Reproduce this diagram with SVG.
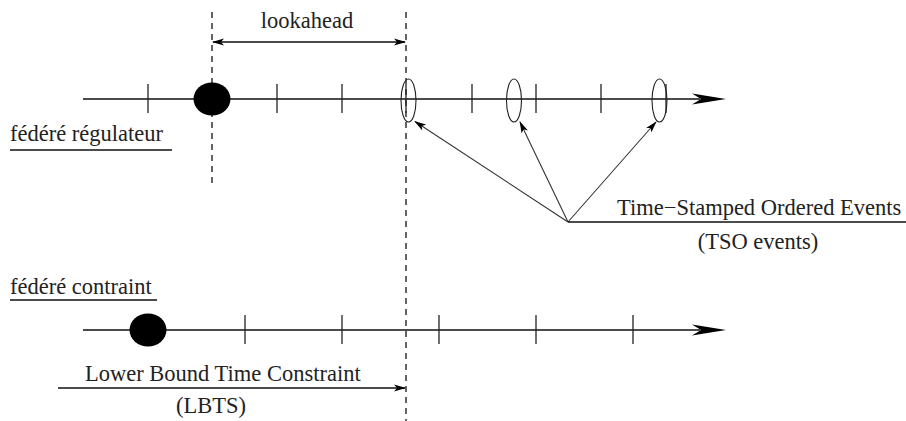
<svg xmlns="http://www.w3.org/2000/svg" width="906" height="421" viewBox="0 0 906 421">
<style>
.ln{stroke:#111;stroke-width:1.3;fill:none}
.tk{stroke:#222;stroke-width:1.3}
.ds{stroke:#111;stroke-width:1.3;stroke-dasharray:6,5;fill:none}
.ev{stroke:#222;stroke-width:1.1;fill:none}
.ar{stroke:#333;stroke-width:1.1;fill:none}
.dot{fill:#000}
.bigarrow{fill:#000}
text{font-family:"Liberation Serif","Times New Roman",serif;font-size:22.5px;fill:#222}
</style>
<defs>
<marker id="ah" viewBox="0 0 12 8" refX="11" refY="4" markerWidth="12" markerHeight="8" markerUnits="userSpaceOnUse" orient="auto-start-reverse">
<path d="M0,0.5 L12,4 L0,7.5 L3,4 Z" fill="#000"/>
</marker>
</defs>
<rect width="906" height="421" fill="#fff"/>

<g id="guides">
<line class="ds" x1="212" y1="12" x2="212" y2="188"/>
<line class="ds" x1="406" y1="12" x2="406" y2="421"/>
</g>

<g id="regulateur-axis">
<line class="ln" x1="83" y1="99" x2="700" y2="99"/>
<polygon class="bigarrow" points="726,99 692,93.5 701,99 692,104.5"/>
<line class="tk" x1="148" y1="84" x2="148" y2="113"/>
<line class="tk" x1="277" y1="84" x2="277" y2="113"/>
<line class="tk" x1="342" y1="84" x2="342" y2="113"/>
<line class="tk" x1="406" y1="84" x2="406" y2="113"/>
<line class="tk" x1="472" y1="84" x2="472" y2="113"/>
<line class="tk" x1="536" y1="84" x2="536" y2="113"/>
<line class="tk" x1="601" y1="84" x2="601" y2="113"/>
<line class="tk" x1="666" y1="84" x2="666" y2="113"/>
<ellipse class="dot" cx="212" cy="99" rx="18.5" ry="16.5"/>
</g>

<g id="tso-events">
<ellipse class="ev" cx="408.5" cy="100.5" rx="7.5" ry="21.5"/>
<ellipse class="ev" cx="514" cy="100.5" rx="7.5" ry="21.5"/>
<ellipse class="ev" cx="659.5" cy="100.5" rx="7.5" ry="21.5"/>
</g>

<g id="lookahead">
<text x="307" y="28" text-anchor="middle">lookahead</text>
</g>

<g id="label-regulateur">
<text x="10" y="141">fédéré régulateur</text>
<line class="ln" x1="10" y1="150" x2="172" y2="150"/>
</g>

<g id="label-tso">
<text x="617" y="215">Time−Stamped Ordered Events</text>
<text x="758" y="249" text-anchor="middle">(TSO events)</text>
</g>

<g id="label-contraint">
<text x="10" y="294">fédéré contraint</text>
<line class="ln" x1="10" y1="300" x2="157" y2="300"/>
</g>

<g id="contraint-axis">
<line class="ln" x1="83" y1="330" x2="700" y2="330"/>
<polygon class="bigarrow" points="726,330 692,324.5 701,330 692,335.5"/>
<line class="tk" x1="245" y1="315" x2="245" y2="344"/>
<line class="tk" x1="342" y1="315" x2="342" y2="344"/>
<line class="tk" x1="439" y1="315" x2="439" y2="344"/>
<line class="tk" x1="536" y1="315" x2="536" y2="344"/>
<line class="tk" x1="633" y1="315" x2="633" y2="344"/>
<ellipse class="dot" cx="148" cy="330" rx="18.5" ry="16.5"/>
</g>

<g id="label-lbts">
<text x="85" y="381">Lower Bound Time Constraint</text>
<text x="211" y="413" text-anchor="middle">(LBTS)</text>
</g>

<g id="connectors">
<line class="ln" x1="213" y1="42" x2="405" y2="42" marker-start="url(#ah)" marker-end="url(#ah)"/>
<line class="ln" x1="58" y1="388" x2="405" y2="388" marker-end="url(#ah)"/>
<line class="ar" x1="568" y1="222" x2="415" y2="121.5" marker-end="url(#ah)"/>
<line class="ar" x1="568" y1="222" x2="520" y2="122" marker-end="url(#ah)"/>
<line class="ar" x1="568" y1="222" x2="656" y2="122" marker-end="url(#ah)"/>
<line class="ln" x1="568" y1="222" x2="906" y2="222"/>
</g>
</svg>
